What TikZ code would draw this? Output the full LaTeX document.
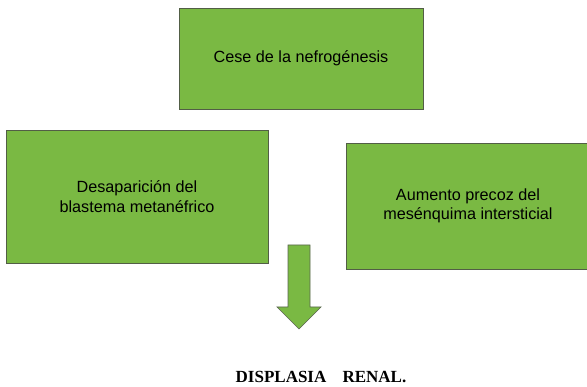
\documentclass[tikz,border=0pt]{standalone}
\usepackage{fontspec}
\setmainfont{Liberation Sans}
\newfontfamily\titlefont{Liberation Serif}
\usepackage{tikz}
\usetikzlibrary{
    positioning,
    calc
}
\definecolor{BoxGreen}{RGB}{122,185,67}
\definecolor{BoxEdge}{RGB}{82,94,70}
\definecolor{ArrowEdge}{RGB}{90,100,80}

\begin{document}
\begin{tikzpicture}[
            x=1pt, y=-1pt,
            font=\fontsize{16.2}{19.5}\selectfont,
            every node/.style={inner sep=0pt},
            caja/.style={draw=BoxEdge, fill=BoxGreen, line width=0.9pt, align=center},
        ]
          \useasboundingbox (0,0) rectangle (587,387);

          % Boxes
          \node[caja, minimum width=244pt, minimum height=101pt] (cese) at (301,58.5) {Cese de la nefrogénesis};
          \node[caja, minimum width=262pt, minimum height=133pt] (desap) at (137,196.5) {Desaparición del\\blastema metanéfrico};
          \node[caja, minimum width=244pt, minimum height=126pt] (aumento) at (468,206) {Aumento precoz del\\mesénquima intersticial};

          % Down arrow
          \draw[ArrowEdge, fill=BoxGreen, line width=0.7pt, line join=miter]
            (288,245) -- (310,245) -- (310,307) -- (321,307) -- (299,329)
            -- (277,307) -- (288,307) -- cycle;

          % Result
          \node[font=\titlefont\bfseries\fontsize{17}{20}\selectfont, anchor=base] (displasia) at (321,383)
            {DISPLASIA\hspace{0.95em}RENAL.};
        \end{tikzpicture}
\end{document}
